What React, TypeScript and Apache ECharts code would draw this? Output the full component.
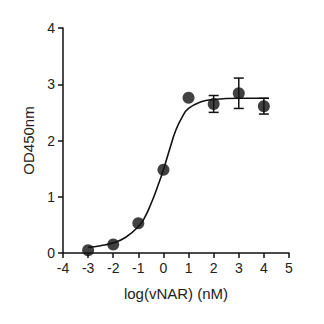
import React, { useEffect, useRef } from "react";
import * as echarts from "echarts";

const xTicks = [-4, -3, -2, -1, 0, 1, 2, 3, 4, 5];
const pointX = [-3, -2, -1, 0, 1, 2, 3, 4];
const pointY = [0.05, 0.15, 0.53, 1.48, 2.76, 2.65, 2.84, 2.61];
const pointErr = [0, 0, 0, 0, 0, 0.15, 0.27, 0.14];
const curveX = [-3, -2.5, -2, -1.5, -1, -0.75, -0.5, -0.25, 0, 0.25, 0.5, 0.75, 1, 1.5, 2, 3, 4.2];
const curveY = [0.1, 0.13, 0.18, 0.28, 0.47, 0.63, 0.87, 1.16, 1.48, 1.85, 2.19, 2.42, 2.57, 2.69, 2.73, 2.75, 2.75];

export default function App() {
  const ref = useRef<HTMLDivElement>(null);
  useEffect(() => {
    if (!ref.current) return;
    const chart = echarts.init(ref.current, null, { renderer: "svg" });
    const black = "#111";
    const font = "Liberation Sans";
    chart.setOption({
      animation: false,
      grid: { left: 63, right: 35, top: 28, bottom: 71 },
      xAxis: {
        type: "value",
        min: xTicks[0],
        max: xTicks[xTicks.length - 1],
        interval: 1,
        name: "log(vNAR) (nM)",
        nameLocation: "middle",
        nameGap: 33,
        nameTextStyle: { fontSize: 15, color: "#222", fontFamily: font },
        axisLine: { onZero: false, lineStyle: { color: black, width: 1.5 } },
        axisTick: { show: true, length: 5, lineStyle: { color: black, width: 1.5 } },
        axisLabel: { fontSize: 14, color: "#222", fontFamily: font, margin: 8 },
        splitLine: { show: false },
      },
      yAxis: {
        type: "value",
        min: 0,
        max: 4,
        interval: 1,
        name: "OD450nm",
        nameLocation: "middle",
        nameGap: 24,
        nameTextStyle: { fontSize: 15, color: "#222", fontFamily: font },
        axisLine: { show: true, onZero: false, lineStyle: { color: black, width: 1.5 } },
        axisTick: { show: true, length: 5, lineStyle: { color: black, width: 1.5 } },
        axisLabel: { fontSize: 14, color: "#222", fontFamily: font, margin: 8 },
        splitLine: { show: false },
      },
      series: [
        {
          type: "line",
          data: curveX.map((x, i) => [x, curveY[i]]),
          smooth: true,
          showSymbol: false,
          lineStyle: { color: black, width: 1.6 },
          z: 2,
        },
        {
          type: "custom",
          data: pointX.map((x, i) => [x, pointY[i] - pointErr[i], pointY[i] + pointErr[i]]),
          renderItem: (params: any, api: any) => {
            const lo = api.coord([api.value(0), api.value(1)]);
            const hi = api.coord([api.value(0), api.value(2)]);
            if (Math.abs(lo[1] - hi[1]) < 1) return { type: "group", children: [] };
            const w = 5;
            const style = { stroke: black, lineWidth: 1.5 };
            return {
              type: "group",
              children: [
                { type: "line", shape: { x1: lo[0], y1: lo[1], x2: hi[0], y2: hi[1] }, style },
                { type: "line", shape: { x1: lo[0] - w, y1: lo[1], x2: lo[0] + w, y2: lo[1] }, style },
                { type: "line", shape: { x1: hi[0] - w, y1: hi[1], x2: hi[0] + w, y2: hi[1] }, style },
              ],
            };
          },
          z: 3,
        },
        {
          type: "scatter",
          data: pointX.map((x, i) => [x, pointY[i]]),
          symbol: "circle",
          symbolSize: 12,
          itemStyle: { color: black },
          z: 4,
        },
      ],
    });
    return () => chart.dispose();
  }, []);
  return <div ref={ref} style={{ width: 324, height: 324, margin: -8 }} />;
}
